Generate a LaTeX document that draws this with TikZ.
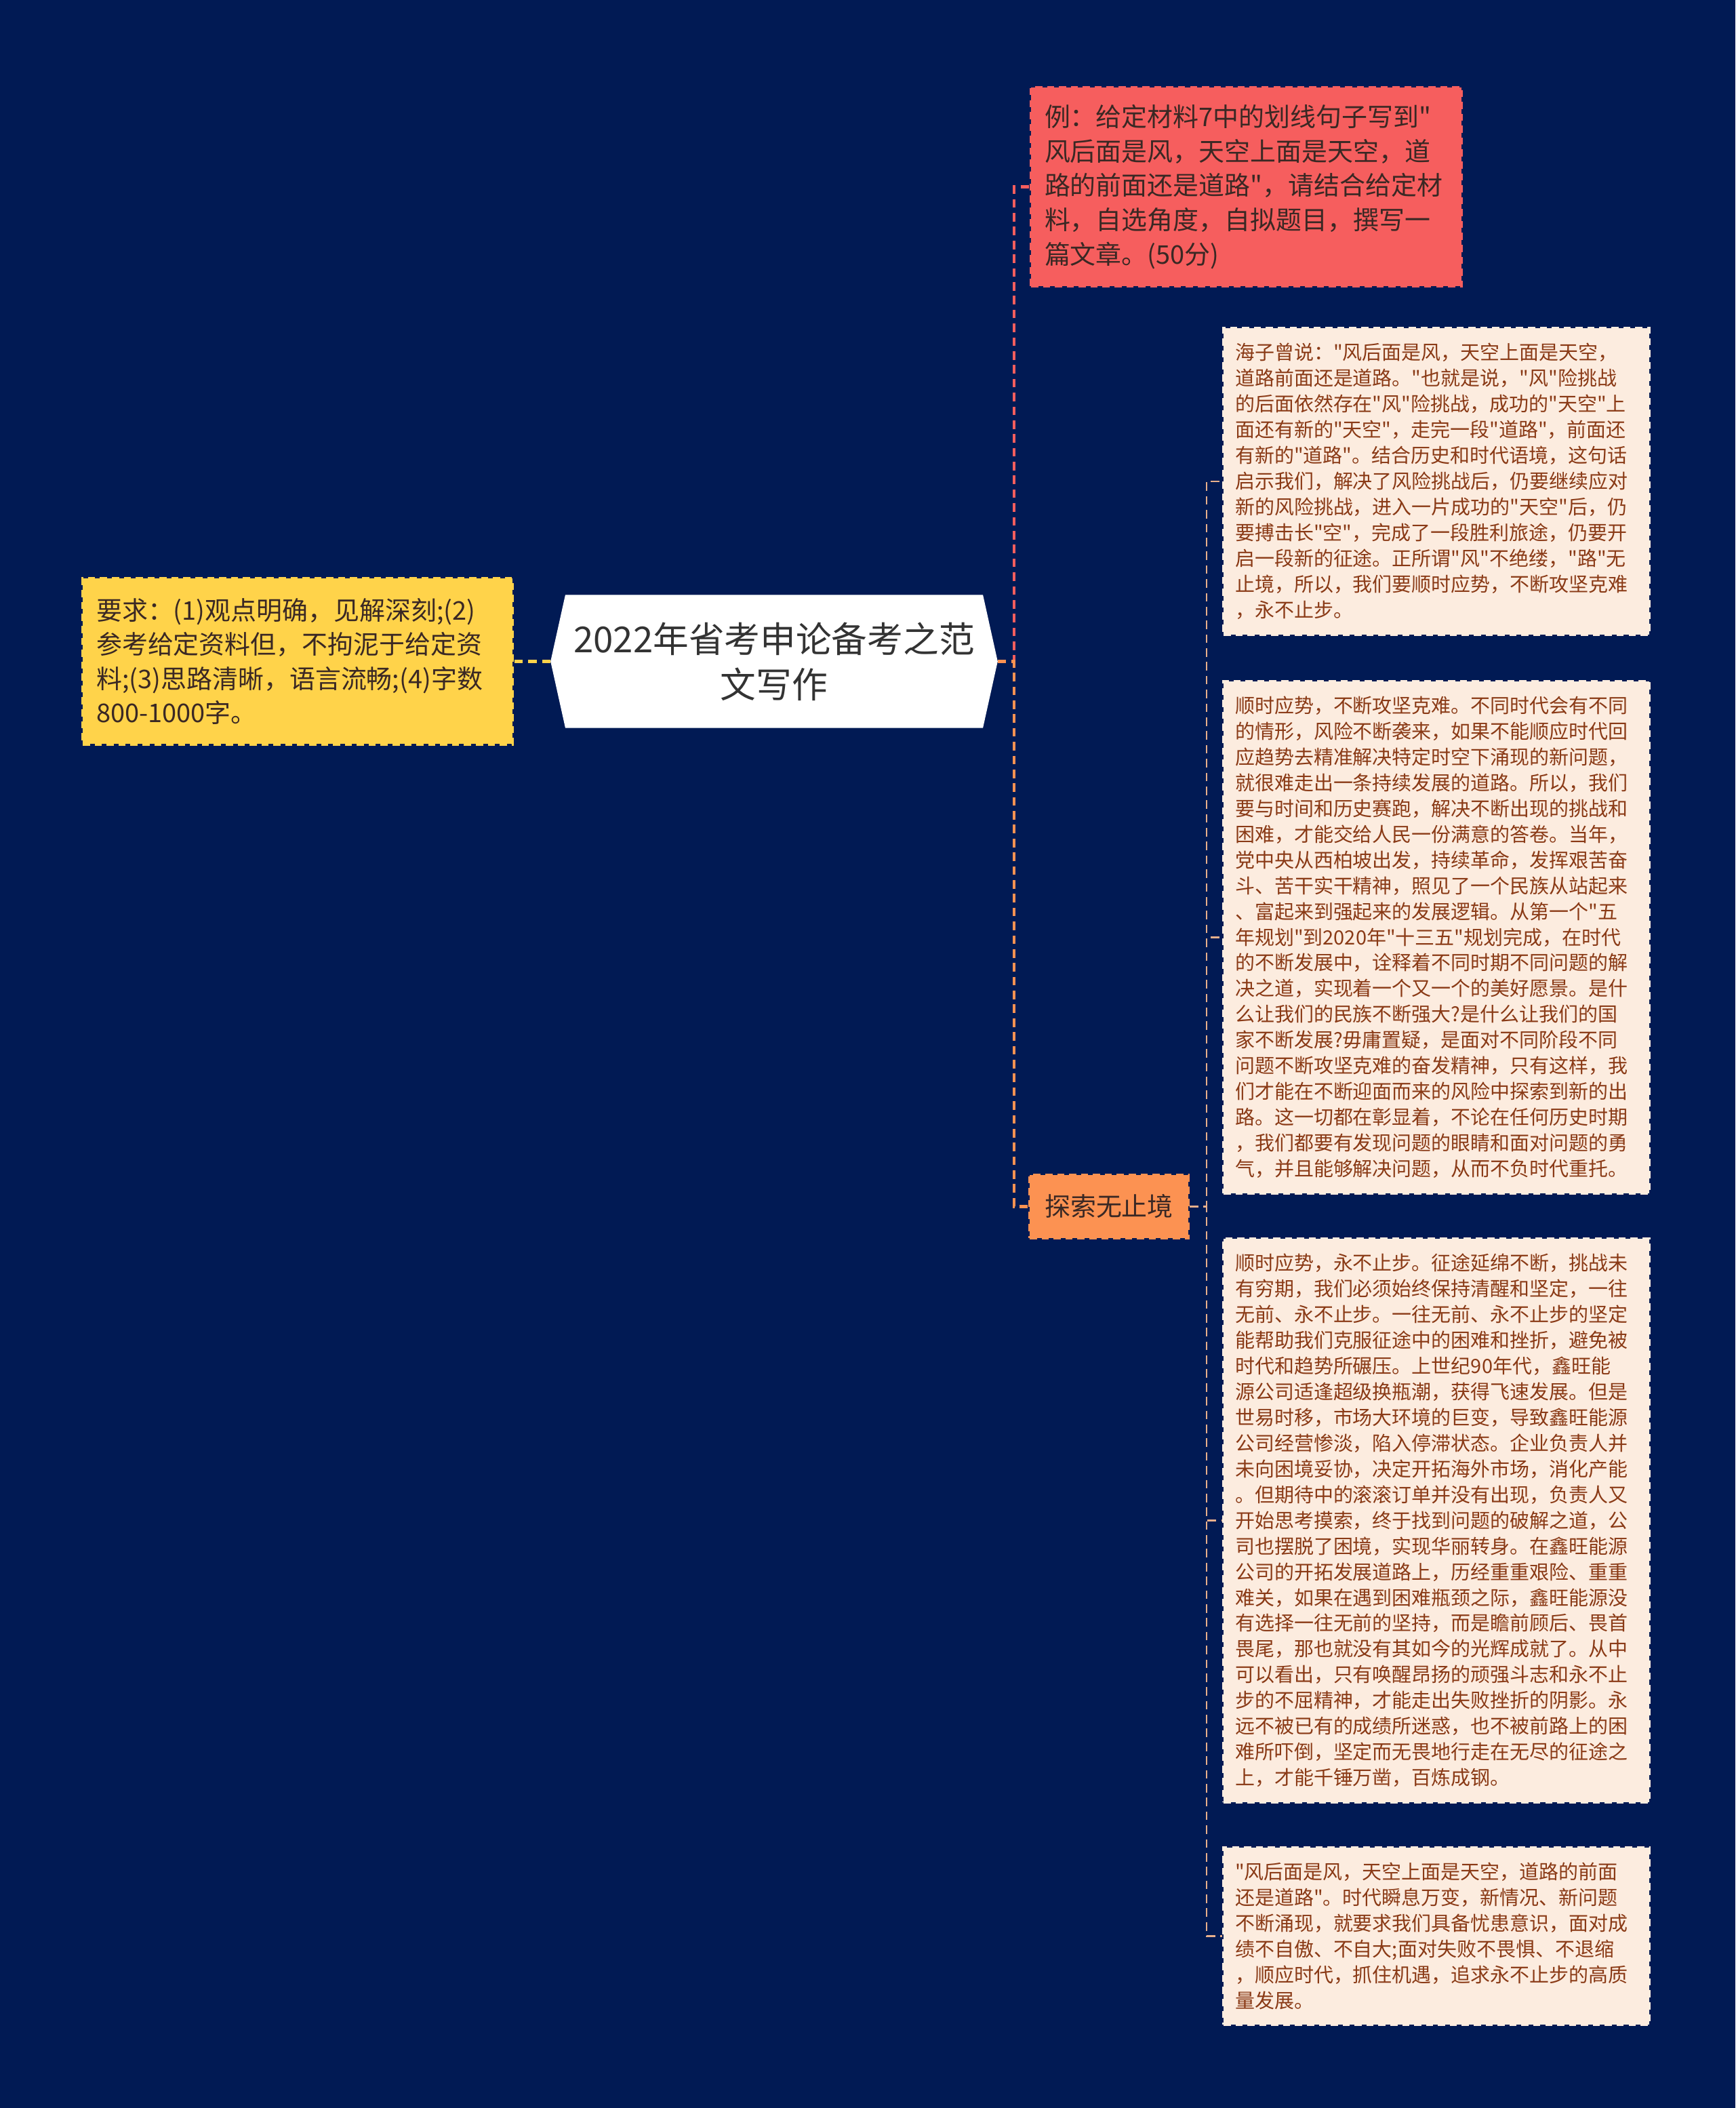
\documentclass[tikz,border=0pt]{standalone}
\usepackage{fontspec}
\setmainfont{Noto Sans CJK SC}[Ligatures=TeXOff]
\usepackage{xcolor}
\usepackage{tikz}
\usetikzlibrary{shapes.symbols,positioning,calc}

\definecolor{bgnavy}{RGB}{1,26,84}
\definecolor{taskred}{RGB}{246,94,94}
\definecolor{reqyellow}{RGB}{255,211,74}
\definecolor{exporange}{RGB}{252,146,82}
\definecolor{leaffill}{RGB}{252,236,223}
\definecolor{leaftext}{RGB}{138,58,22}
\definecolor{leafline}{RGB}{232,176,140}
\definecolor{darktext}{RGB}{58,40,36}

\begin{document}
\begin{tikzpicture}[
  topic/.style={signal, signal to=west and east, signal pointer angle=155,
                fill=white, draw=white, minimum width=6.5cm, minimum height=1.95cm,
                align=center, text={rgb,255:red,51;green,51;blue,51},
                font=\fontsize{15pt}{19pt}\selectfont},
  branch/.style={dashed, dash pattern=on 3pt off 2pt, line width=1.2pt,
                 align=left, text=darktext, inner xsep=0.2cm,
                 font=\fontsize{10.8pt}{14.4pt}\selectfont},
  leaf/.style={draw=leaffill, fill=leaffill, dashed, dash pattern=on 3pt off 2pt,
               line width=1.2pt, text=leaftext, text width=5.94cm, align=left,
               inner xsep=0.17cm, inner ysep=0.22cm,
               font=\fontsize{8.25pt}{10.8pt}\selectfont},
  link/.style={line width=1.2pt, dash pattern=on 3.6pt off 2.2pt},
  leaflink/.style={draw=leafline, line width=0.8pt, dash pattern=on 3.6pt off 2.2pt}
]
\useasboundingbox (0,0) rectangle (25.6,31.09);
\fill[bgnavy] (0,0) rectangle (25.6,31.09);

\node[topic] (topic) at (11.42,21.335) {2022年省考申论备考之范\\文写作};

\node[branch, draw=reqyellow, fill=reqyellow, text width=5.94cm, minimum height=2.44cm,
      left=0.54cm of topic] (req)
  {要求：(1)观点明确，见解深刻;(2)\\参考给定资料但，不拘泥于给定资\\料;(3)思路清晰，语言流畅;(4)字数\\800-1000字。};

\node[branch, draw=taskred, fill=taskred, text width=5.95cm, minimum height=2.93cm]
  (task) at (18.385,28.335)
  {例：给定材料7中的划线句子写到"\\风后面是风，天空上面是天空，道\\路的前面还是道路"，请结合给定材\\料，自选角度，自拟题目，撰写一\\篇文章。(50分)};

\node[branch, draw=exporange, fill=exporange, minimum height=0.93cm, inner xsep=0.22cm]
  (explore) at (16.36,13.295) {探索无止境};

\node[leaf] (p1) at (21.19,23.99)
  {海子曾说："风后面是风，天空上面是天空，\\道路前面还是道路。"也就是说，"风"险挑战\\的后面依然存在"风"险挑战，成功的"天空"上\\面还有新的"天空"，走完一段"道路"，前面还\\有新的"道路"。结合历史和时代语境，这句话\\启示我们，解决了风险挑战后，仍要继续应对\\新的风险挑战，进入一片成功的"天空"后，仍\\要搏击长"空"，完成了一段胜利旅途，仍要开\\启一段新的征途。正所谓"风"不绝缕，"路"无\\止境，所以，我们要顺时应势，不断攻坚克难\\，永不止步。};

\node[leaf, below=0.65cm of p1] (p2)
  {顺时应势，不断攻坚克难。不同时代会有不同\\的情形，风险不断袭来，如果不能顺应时代回\\应趋势去精准解决特定时空下涌现的新问题，\\就很难走出一条持续发展的道路。所以，我们\\要与时间和历史赛跑，解决不断出现的挑战和\\困难，才能交给人民一份满意的答卷。当年，\\党中央从西柏坡出发，持续革命，发挥艰苦奋\\斗、苦干实干精神，照见了一个民族从站起来\\、富起来到强起来的发展逻辑。从第一个"五\\年规划"到2020年"十三五"规划完成，在时代\\的不断发展中，诠释着不同时期不同问题的解\\决之道，实现着一个又一个的美好愿景。是什\\么让我们的民族不断强大?是什么让我们的国\\家不断发展?毋庸置疑，是面对不同阶段不同\\问题不断攻坚克难的奋发精神，只有这样，我\\们才能在不断迎面而来的风险中探索到新的出\\路。这一切都在彰显着，不论在任何历史时期\\，我们都要有发现问题的眼睛和面对问题的勇\\气，并且能够解决问题，从而不负时代重托。};

\node[leaf, below=0.63cm of p2] (p3)
  {顺时应势，永不止步。征途延绵不断，挑战未\\有穷期，我们必须始终保持清醒和坚定，一往\\无前、永不止步。一往无前、永不止步的坚定\\能帮助我们克服征途中的困难和挫折，避免被\\时代和趋势所碾压。上世纪90年代，鑫旺能\\源公司适逢超级换瓶潮，获得飞速发展。但是\\世易时移，市场大环境的巨变，导致鑫旺能源\\公司经营惨淡，陷入停滞状态。企业负责人并\\未向困境妥协，决定开拓海外市场，消化产能\\。但期待中的滚滚订单并没有出现，负责人又\\开始思考摸索，终于找到问题的破解之道，公\\司也摆脱了困境，实现华丽转身。在鑫旺能源\\公司的开拓发展道路上，历经重重艰险、重重\\难关，如果在遇到困难瓶颈之际，鑫旺能源没\\有选择一往无前的坚持，而是瞻前顾后、畏首\\畏尾，那也就没有其如今的光辉成就了。从中\\可以看出，只有唤醒昂扬的顽强斗志和永不止\\步的不屈精神，才能走出失败挫折的阴影。永\\远不被已有的成绩所迷惑，也不被前路上的困\\难所吓倒，坚定而无畏地行走在无尽的征途之\\上，才能千锤万凿，百炼成钢。};

\node[leaf, below=0.63cm of p3] (p4)
  {"风后面是风，天空上面是天空，道路的前面\\还是道路"。时代瞬息万变，新情况、新问题\\不断涌现，就要求我们具备忧患意识，面对成\\绩不自傲、不自大;面对失败不畏惧、不退缩\\，顺应时代，抓住机遇，追求永不止步的高质\\量发展。};

% elbow points of the two trunks
\coordinate (hub)  at ($(topic.east)+(0.24,0)$);
\coordinate (hub2) at ($(explore.east)+(0.25,0)$);

\draw[link, taskred]   (topic.east) -- (hub) |- (task.west);
\draw[link, exporange] (topic.east) -- (hub) |- (explore.west);
\draw[link, reqyellow] (topic.west) -- (req.east);

\foreach \leaf in {p1,p2,p3,p4}
  \draw[leaflink] (explore.east) -- (hub2) |- (\leaf.west);
\end{tikzpicture}
\end{document}
